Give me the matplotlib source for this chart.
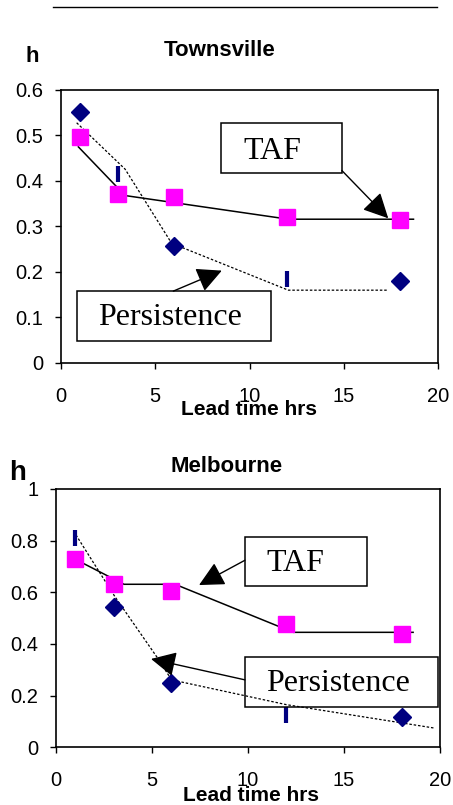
import matplotlib
matplotlib.use('Agg')
import matplotlib.pyplot as plt
from matplotlib.patches import Rectangle
from matplotlib.lines import Line2D

plt.rcParams['font.family'] = ['Liberation Sans', 'DejaVu Sans']

# lead times (hrs)
lead = [1, 3, 6, 12, 18]

# Townsville
tsv_taf = [0.497, 0.371, 0.364, 0.320, 0.314]
tsv_diam_x = [1, 6, 18]
tsv_diam_y = [0.551, 0.258, 0.180]
tsv_dash_x = [3, 12]
tsv_dash_y = [0.415, 0.185]
tsv_taf_line_x = [0.92, 3.4, 12.06, 18.7]
tsv_taf_line_y = [0.475, 0.368, 0.316, 0.316]
tsv_pers_line_x = [0.83, 3.4, 5.87, 12.06, 17.28]
tsv_pers_line_y = [0.528, 0.426, 0.263, 0.160, 0.160]

# Melbourne
mel_taf = [0.728, 0.631, 0.605, 0.476, 0.437]
mel_diam_x = [3, 6, 18]
mel_diam_y = [0.544, 0.250, 0.118]
mel_dash_x = [1, 12]
mel_dash_y = [0.809, 0.125]
mel_taf_line_x = [1.08, 3.54, 6.2, 12.36, 18.6]
mel_taf_line_y = [0.725, 0.631, 0.631, 0.445, 0.445]
mel_pers_line_x = [1.04, 3.07, 5.24, 6.02, 12.0, 19.74]
mel_pers_line_y = [0.822, 0.583, 0.351, 0.261, 0.165, 0.074]

PINK = '#FF00FF'
NAVY = '#000080'


def draw_panel(ax, taf, diam_x, diam_y, dash_x, dash_y,
               tl_x, tl_y, pl_x, pl_y, ymax, ystep):
    ax.plot(tl_x, tl_y, color='black', lw=1.1, zorder=2)
    ax.plot(pl_x, pl_y, color='black', lw=0.9, ls=(0, (2, 1.5)), zorder=2)
    ax.plot(lead, taf, ls='none', marker='s', ms=11.5, color=PINK, zorder=3)
    ax.plot(diam_x, diam_y, ls='none', marker='D', ms=9, color=NAVY, zorder=3)
    ax.plot(dash_x, dash_y, ls='none', marker='|', ms=11, mew=3,
            color=NAVY, zorder=3)
    ax.set_xlim(0, 20)
    ax.set_ylim(0, ymax)
    ax.set_xticks([0, 5, 10, 15, 20])
    yt = [round(i * ystep, 1) for i in range(int(round(ymax / ystep)) + 1)]
    ax.set_yticks(yt)
    ax.set_yticklabels(['0' if v == 0 else ('1' if v == 1 else '%.1f' % v)
                        for v in yt])
    ax.tick_params(direction='out', length=4.3, width=1, labelsize=14.5,
                   pad=8.5)
    ax.tick_params(axis='x', pad=13)
    for s in ax.spines.values():
        s.set_linewidth(1.2)


def box(ax, x0, x1, y0, y1, text, tx, ty):
    ax.add_patch(Rectangle((x0, y0), x1 - x0, y1 - y0, fill=False,
                           ec='black', lw=1.1, zorder=4, clip_on=False))
    ax.text(tx, ty, text, family=['Liberation Serif'], fontsize=23,
            ha='center', va='center', zorder=5)


def arrow(ax, start, end):
    ax.annotate('', xy=end, xytext=start,
                arrowprops=dict(arrowstyle='-|>,head_length=1.1,head_width=0.55',
                                color='black', lw=1, shrinkA=0, shrinkB=0,
                                mutation_scale=14), zorder=5)


fig = plt.figure(figsize=(4.53, 8.05), dpi=100)

ax1 = fig.add_axes([0.1347, 0.5491, 0.8322, 0.3391])
draw_panel(ax1, tsv_taf, tsv_diam_x, tsv_diam_y, tsv_dash_x, tsv_dash_y,
           tsv_taf_line_x, tsv_taf_line_y, tsv_pers_line_x, tsv_pers_line_y,
           0.6, 0.1)
box(ax1, 8.49, 14.9, 0.418, 0.527, 'TAF', 11.22, 0.464)
arrow(ax1, (14.9, 0.423), (17.36, 0.318))
box(ax1, 0.83, 11.12, 0.048, 0.158, 'Persistence', 5.77, 0.099)
arrow(ax1, (5.96, 0.158), (8.53, 0.203))

ax2 = fig.add_axes([0.1236, 0.0717, 0.8477, 0.3209])
draw_panel(ax2, mel_taf, mel_diam_x, mel_diam_y, mel_dash_x, mel_dash_y,
           mel_taf_line_x, mel_taf_line_y, mel_pers_line_x, mel_pers_line_y,
           1.0, 0.2)
box(ax2, 9.84, 16.18, 0.624, 0.815, 'TAF', 12.49, 0.710)
arrow(ax2, (9.84, 0.724), (7.45, 0.628))
box(ax2, 9.84, 19.91, 0.157, 0.351, 'Persistence', 14.69, 0.248)
arrow(ax2, (9.84, 0.261), (4.95, 0.342))

# titles and axis labels
fig.text(220 / 453, 1 - 51 / 805, 'Townsville', fontsize=16,
         fontweight='bold', ha='center', va='center')
fig.text(32 / 453, 1 - 57 / 805, 'h', fontsize=16, fontweight='bold',
         ha='center', va='center')
fig.text(249 / 453, 1 - 409 / 805, 'Lead time hrs', fontsize=15,
         fontweight='bold', ha='center', va='center')

fig.text(227 / 453, 1 - 466 / 805, 'Melbourne', fontsize=16,
         fontweight='bold', ha='center', va='center')
fig.text(18 / 453, 1 - 473 / 805, 'h', fontsize=20, fontweight='bold',
         ha='center', va='center')
fig.text(251 / 453, 1 - 795 / 805, 'Lead time hrs', fontsize=15,
         fontweight='bold', ha='center', va='center')

# rule across the top of the page
fig.add_artist(Line2D([53 / 453, 437 / 453], [1 - 7 / 805, 1 - 7 / 805],
                      color='black', lw=1))

fig.savefig('out.png', dpi=100)
